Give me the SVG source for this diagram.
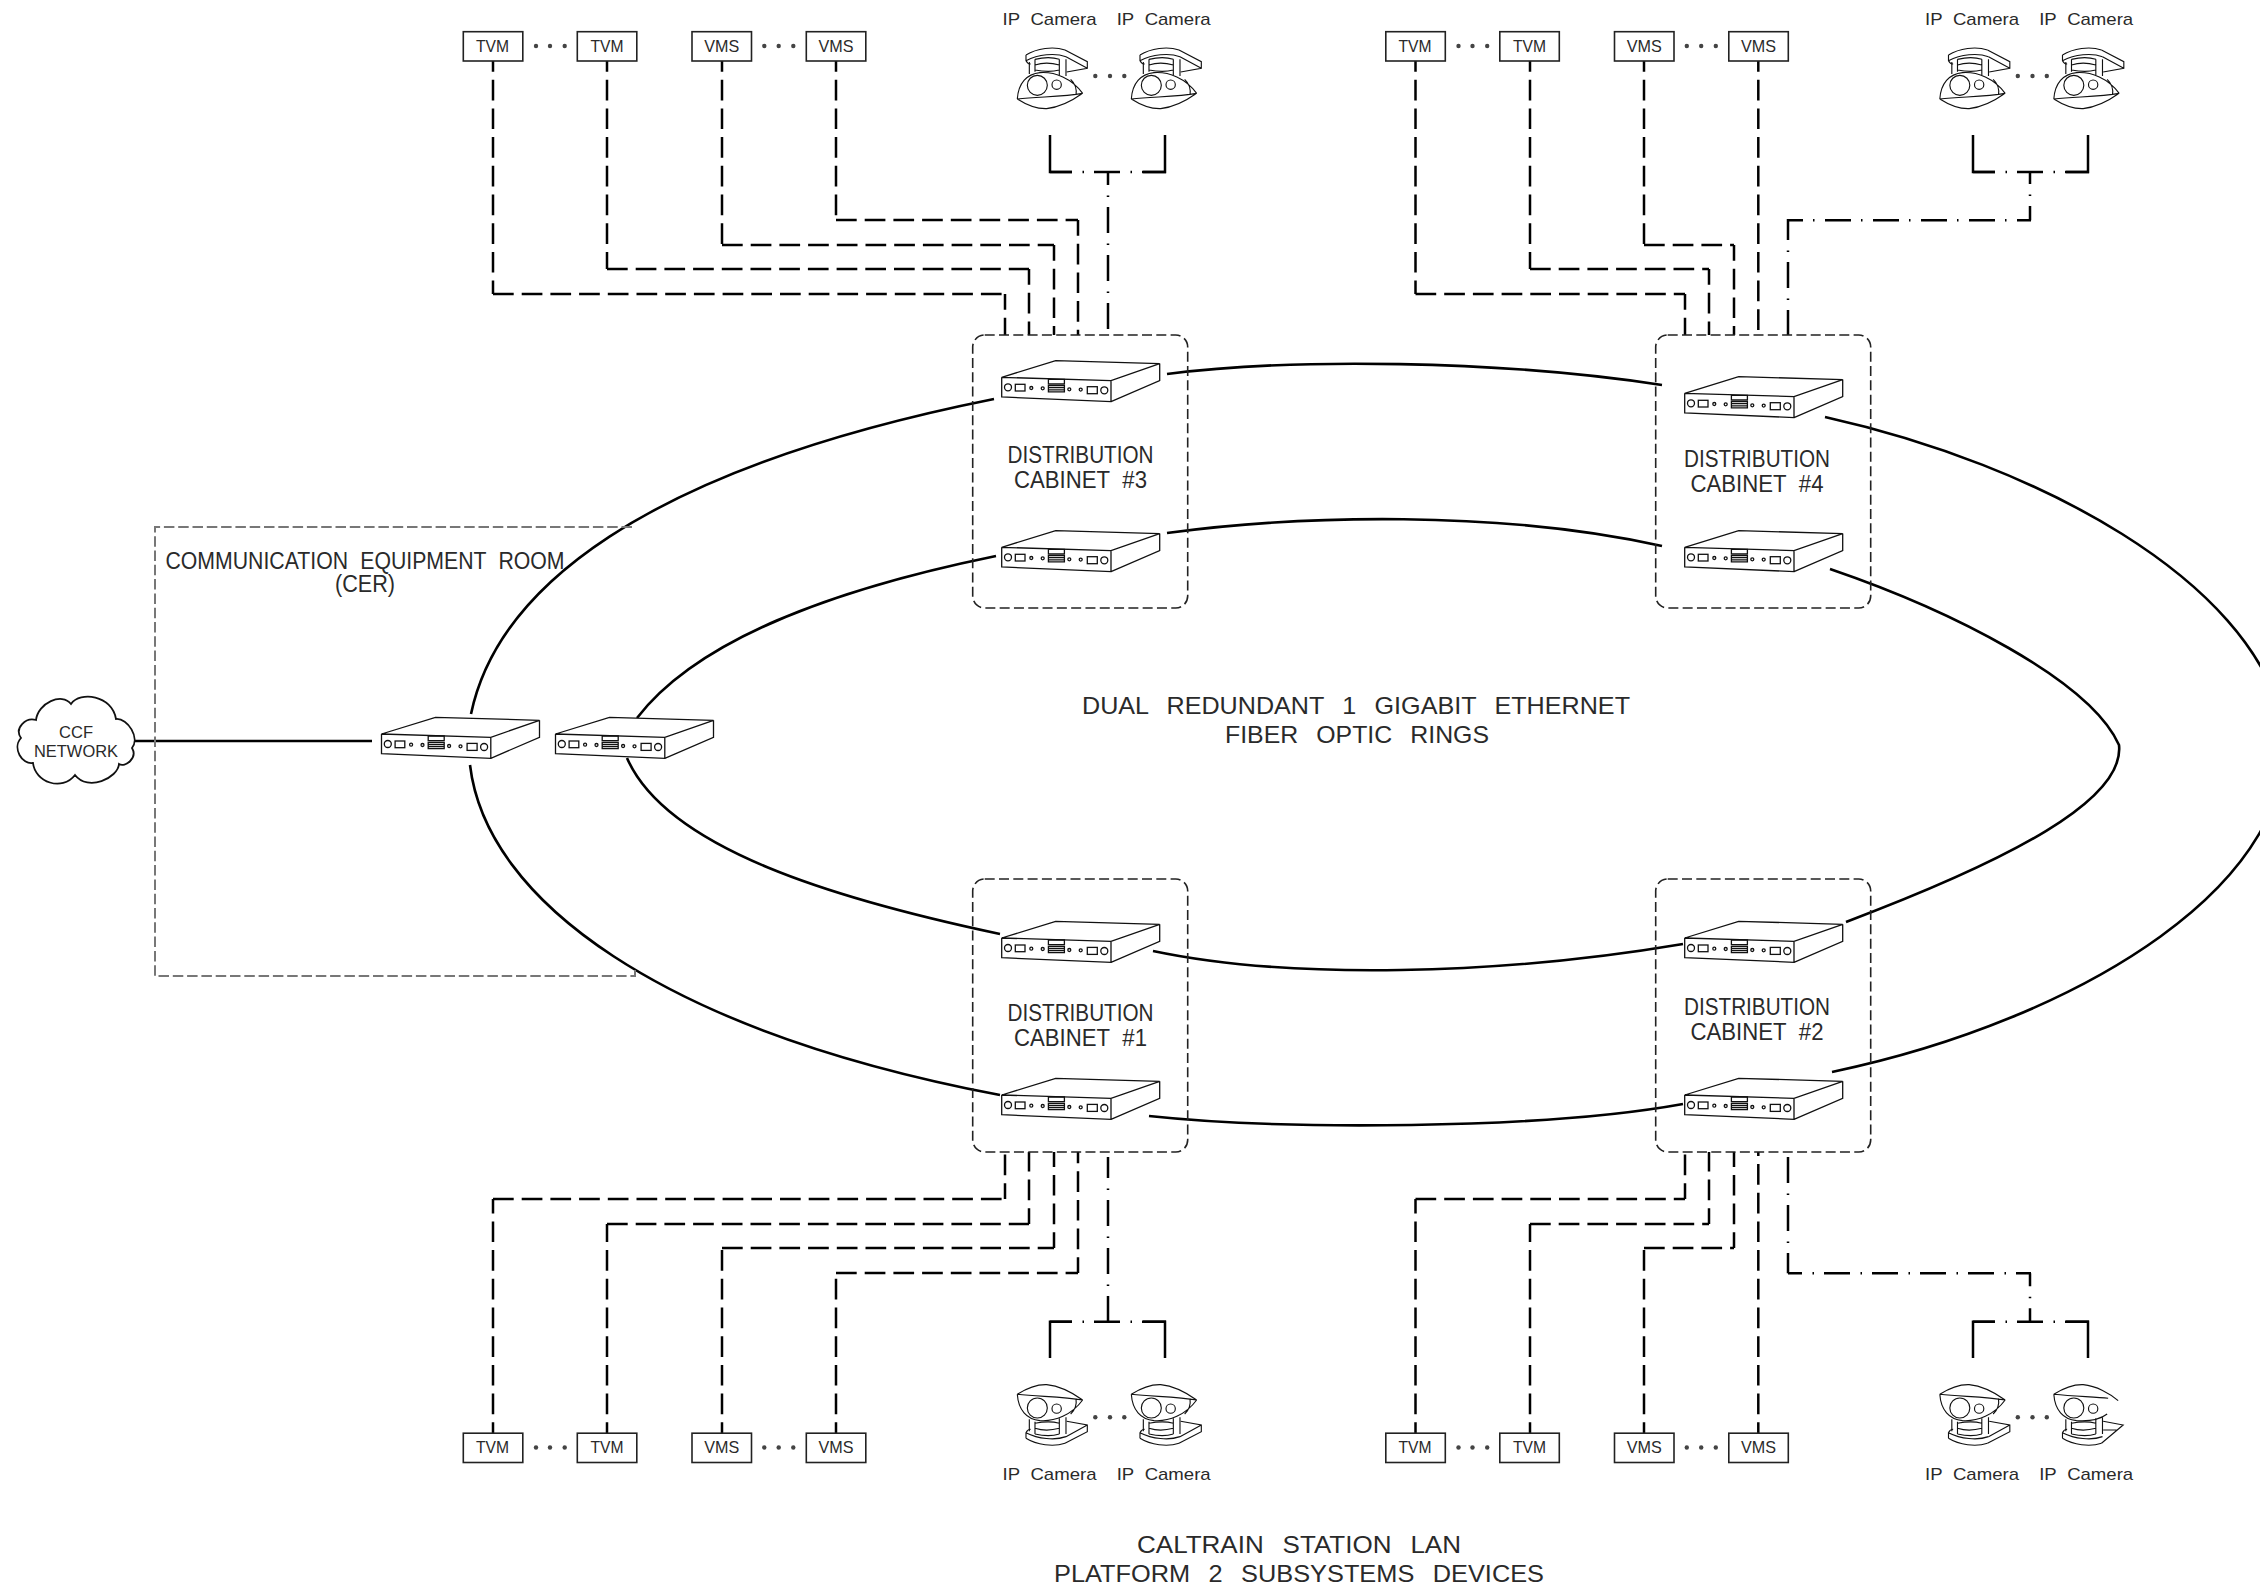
<svg xmlns="http://www.w3.org/2000/svg" width="2260" height="1587" viewBox="0 0 2260 1587">
<style>
text{font-family:"Liberation Sans",Arial,sans-serif;fill:#2a2a2a;text-anchor:middle;word-spacing:.3em}
.s{font-size:17px}.m{font-size:23px}.l{font-size:24px;word-spacing:.45em}
.box{fill:#fff;stroke:#222;stroke-width:1.6}
.cab{fill:none;stroke:#222;stroke-width:1.6;stroke-dasharray:10 4.3}
.cer{fill:none;stroke:#777;stroke-width:2;stroke-dasharray:10.5 3.8}
.dot{fill:#444}
.f{fill:none;stroke:#000;stroke-width:2.6;stroke-linecap:butt}
.c{fill:none;stroke:#000;stroke-width:2.5}
.d{stroke-dasharray:20.7 8}
.a{stroke-dashoffset:10}.b{stroke-dashoffset:5}
.dd{stroke-dasharray:26 10.5 1.5 10}
.e{stroke-dashoffset:13}.g{stroke-dashoffset:4}.h{stroke-dashoffset:12}.i{stroke-dashoffset:5}
.u{fill:none;stroke:#111;stroke-width:1.3}
.cm{fill:none;stroke:#111;stroke-width:3.4}
</style>
<defs>
<g id="sw" class="u">
<path d="M0 0L54 -16.7L158 -13.7L109.3 3.3ZM0 0V19.7L109.3 24.3V3.3M158 -13.7V3.3L109.3 24.3" fill="#fff"/>
<circle cx="6.3" cy="10" r="3.5"/><rect x="13.6" y="7" width="9.7" height="6.7"/><circle cx="29.6" cy="10.7" r="1.5"/><circle cx="41" cy="11" r="1.5"/>
<path d="M46.7 2H62.7V6.7H46.7ZM46.7 8.3H62.7V14.6H46.7ZM46.7 10.4H62.7M46.7 12.5H62.7"/>
<circle cx="67.6" cy="12" r="1.5"/><circle cx="79" cy="12.3" r="1.5"/><rect x="85.6" y="9.4" width="10" height="7"/><circle cx="102.6" cy="13" r="3.5"/>
</g>
<g id="mount">
<path d="M258 165C290 145 340 138 375 150M258 165V182C262 190 270 192 272 192M258 182C295 163 345 158 378 170"/>
<path d="M268 186V222M285 178V215M358 178V225M378 178V228M285 178C310 172 340 172 358 178M285 195C310 187 340 190 358 195M285 210C310 215 340 215 358 210"/>
<circle cx="292" cy="256" r="30"/><circle cx="350" cy="254" r="14"/>
</g>
<g id="cam" class="cm">
<use href="#mount"/>
<path d="M375 150L442 185V205L380 216M378 170L442 205"/>
<path d="M232 297C260 315 290 327 320 326C360 322 400 300 428 280M232 297C300 290 370 290 428 280M232 297C235 250 260 222 300 218C345 215 395 235 428 280M392 238C405 250 411 265 408 285"/>
</g>
<g id="camx" class="cm">
<use href="#mount"/>
<path d="M375 150L440 205L380 216M380 190L420 190"/>
<path d="M232 297C260 315 290 327 320 326C360 322 400 300 425 278M232 297C300 290 360 290 395 285M232 297C235 250 260 222 300 218C345 215 375 225 392 238"/>
</g>
</defs>
<rect width="2260" height="1587" fill="#fff"/>

<g id="connectors">
<path class="f" d="M134 741H372"/>
<path class="f" d="M471 714C497 590 640 470 994 399"/>
<path class="f" d="M1167 374C1290 358 1500 360 1662 385"/>
<path class="f" d="M1825 417C2040 465 2250 580 2282 720C2310 880 2080 1020 1832 1072"/>
<path class="f" d="M1149 1116C1280 1130 1540 1130 1683 1104"/>
<path class="f" d="M470 765C486 900 660 1030 1000 1095"/>
<path class="f" d="M637 718C697 640 830 590 996 556"/>
<path class="f" d="M1167 533C1300 515 1500 510 1662 546"/>
<path class="f" d="M1830 569C1950 610 2090 680 2119 745C2125 800 2010 860 1846 922"/>
<path class="f" d="M1153 951C1290 980 1500 975 1683 944"/>
<path class="f" d="M627 758C667 850 840 900 1000 934"/>

<path class="c d a" d="M493 61V294"/><path class="c d" d="M493 294H1005"/><path class="c d b" d="M1005 294V335"/>
<path class="c d a" d="M607 61V269"/><path class="c d" d="M607 269H1029"/><path class="c d b" d="M1029 269V335"/>
<path class="c d a" d="M722 61V245"/><path class="c d" d="M722 245H1054"/><path class="c d b" d="M1054 245V335"/>
<path class="c d a" d="M836 61V220"/><path class="c d" d="M836 220H1078"/><path class="c d b" d="M1078 220V335"/>
<path class="c dd e" d="M1108 172V335"/>
<path class="c" d="M1050 135V172H1072M1165 135V172H1143"/>
<path class="c dd g" d="M1050 172H1166"/>

<path class="c d a" d="M1415.5 61V294"/><path class="c d" d="M1415.5 294H1685"/><path class="c d b" d="M1685 294V335"/>
<path class="c d a" d="M1530 61V269"/><path class="c d" d="M1530 269H1709"/><path class="c d b" d="M1709 269V335"/>
<path class="c d a" d="M1644 61V245"/><path class="c d" d="M1644 245H1734"/><path class="c d b" d="M1734 245V335"/>
<path class="c d a" d="M1758.3 61V335"/>
<path class="c" d="M1973 135V172H1995M2088 135V172H2066"/>
<path class="c dd g" d="M1973 172H2089"/>
<path class="c dd e" d="M2030 171V220.3"/>
<path class="c dd h" d="M2031 220.3H1788"/>
<path class="c dd i" d="M1788 219V335"/>

<path class="c d a" d="M493 1433V1199"/><path class="c d" d="M493 1199H1005"/><path class="c d b" d="M1005 1199V1152"/>
<path class="c d a" d="M607 1433V1224"/><path class="c d" d="M607 1224H1029"/><path class="c d b" d="M1029 1224V1152"/>
<path class="c d a" d="M722 1433V1248"/><path class="c d" d="M722 1248H1054"/><path class="c d b" d="M1054 1248V1152"/>
<path class="c d a" d="M836 1433V1273"/><path class="c d" d="M836 1273H1078"/><path class="c d b" d="M1078 1273V1152"/>
<path class="c dd i" d="M1108 1157V1321.7"/>
<path class="c" d="M1050 1358V1321.7H1072M1165 1358V1321.7H1143"/>
<path class="c dd g" d="M1050 1321.7H1166"/>

<path class="c d a" d="M1415.5 1433V1199"/><path class="c d" d="M1415.5 1199H1685"/><path class="c d b" d="M1685 1199V1152"/>
<path class="c d a" d="M1530 1433V1224"/><path class="c d" d="M1530 1224H1709"/><path class="c d b" d="M1709 1224V1152"/>
<path class="c d a" d="M1644 1433V1248"/><path class="c d" d="M1644 1248H1734"/><path class="c d b" d="M1734 1248V1152"/>
<path class="c d a" d="M1758.3 1433V1152"/>
<path class="c dd" d="M1788 1157V1273.3"/>
<path class="c dd h" d="M1788 1273.3H2031"/>
<path class="c dd e" d="M2030 1273.3V1321.7"/>
<path class="c" d="M1973 1358V1321.7H1995M2088 1358V1321.7H2066"/>
<path class="c dd g" d="M1973 1321.7H2089"/>
</g>

<g id="ccf-network">
<path d="M36 720C38 703 62 692 71 704C80 691 112 695 116 719C128 718 140 738 132 748C138 758 125 768 119 764C118 778 88 792 75 775C62 792 35 782 33 763C22 765 12 748 21 738C14 728 26 717 36 720Z" fill="#fff" stroke="#111" stroke-width="1.8"/>
<text class="s" x="76" y="738" textLength="34" lengthAdjust="spacingAndGlyphs">CCF</text>
<text class="s" x="76" y="757" textLength="84" lengthAdjust="spacingAndGlyphs">NETWORK</text>
</g>

<g id="cer">
<path class="cer" d="M632 527H155V976H635V967"/>
<text class="m" x="365" y="569" textLength="399" lengthAdjust="spacingAndGlyphs">COMMUNICATION EQUIPMENT ROOM</text>
<text class="m" x="365" y="592" textLength="60" lengthAdjust="spacingAndGlyphs">(CER)</text>
<use href="#sw" x="381.5" y="734"/>
<use href="#sw" x="555.5" y="734"/>
</g>

<g id="cabinet-3">
<rect class="cab" x="972.7" y="335" width="215" height="273" rx="12"/>
<use href="#sw" x="1001.7" y="377.3"/><use href="#sw" x="1001.7" y="547.3"/>
<text class="m" x="1080.5" y="463" textLength="146" lengthAdjust="spacingAndGlyphs">DISTRIBUTION</text>
<text class="m" x="1080.5" y="488" textLength="133" lengthAdjust="spacingAndGlyphs">CABINET #3</text>
</g>
<g id="cabinet-4">
<rect class="cab" x="1655.7" y="335" width="215" height="273" rx="12"/>
<use href="#sw" x="1684.7" y="393.3"/><use href="#sw" x="1684.7" y="547.3"/>
<text class="m" x="1757" y="467" textLength="146" lengthAdjust="spacingAndGlyphs">DISTRIBUTION</text>
<text class="m" x="1757" y="492" textLength="133" lengthAdjust="spacingAndGlyphs">CABINET #4</text>
</g>
<g id="cabinet-1">
<rect class="cab" x="972.7" y="879" width="215" height="273" rx="12"/>
<use href="#sw" x="1001.7" y="938"/><use href="#sw" x="1001.7" y="1095"/>
<text class="m" x="1080.5" y="1021" textLength="146" lengthAdjust="spacingAndGlyphs">DISTRIBUTION</text>
<text class="m" x="1080.5" y="1046" textLength="133" lengthAdjust="spacingAndGlyphs">CABINET #1</text>
</g>
<g id="cabinet-2">
<rect class="cab" x="1655.7" y="879" width="215" height="273" rx="12"/>
<use href="#sw" x="1684.7" y="938"/><use href="#sw" x="1684.7" y="1095"/>
<text class="m" x="1757" y="1015" textLength="146" lengthAdjust="spacingAndGlyphs">DISTRIBUTION</text>
<text class="m" x="1757" y="1040" textLength="133" lengthAdjust="spacingAndGlyphs">CABINET #2</text>
</g>

<g id="devices-top-left">
<rect class="box" x="463.3" y="31.7" width="59.5" height="29.3"/><text class="s" x="492.5" y="51.7" textLength="33" lengthAdjust="spacingAndGlyphs">TVM</text>
<rect class="box" x="577.3" y="31.7" width="59.5" height="29.3"/><text class="s" x="607" y="51.7" textLength="33" lengthAdjust="spacingAndGlyphs">TVM</text>
<circle class="dot" cx="536" cy="46" r="2.2"/><circle class="dot" cx="550" cy="46" r="2.2"/><circle class="dot" cx="564.7" cy="46" r="2.2"/>
<rect class="box" x="692" y="31.7" width="59.5" height="29.3"/><text class="s" x="721.8" y="51.7" textLength="35" lengthAdjust="spacingAndGlyphs">VMS</text>
<rect class="box" x="806.3" y="31.7" width="59.5" height="29.3"/><text class="s" x="836" y="51.7" textLength="35" lengthAdjust="spacingAndGlyphs">VMS</text>
<circle class="dot" cx="764.3" cy="46" r="2.2"/><circle class="dot" cx="778.7" cy="46" r="2.2"/><circle class="dot" cx="793.3" cy="46" r="2.2"/>
</g>
<g id="devices-top-right" transform="translate(922.5 0)">
<rect class="box" x="463.3" y="31.7" width="59.5" height="29.3"/><text class="s" x="492.5" y="51.7" textLength="33" lengthAdjust="spacingAndGlyphs">TVM</text>
<rect class="box" x="577.3" y="31.7" width="59.5" height="29.3"/><text class="s" x="607" y="51.7" textLength="33" lengthAdjust="spacingAndGlyphs">TVM</text>
<circle class="dot" cx="536" cy="46" r="2.2"/><circle class="dot" cx="550" cy="46" r="2.2"/><circle class="dot" cx="564.7" cy="46" r="2.2"/>
<rect class="box" x="692" y="31.7" width="59.5" height="29.3"/><text class="s" x="721.8" y="51.7" textLength="35" lengthAdjust="spacingAndGlyphs">VMS</text>
<rect class="box" x="806.3" y="31.7" width="59.5" height="29.3"/><text class="s" x="836" y="51.7" textLength="35" lengthAdjust="spacingAndGlyphs">VMS</text>
<circle class="dot" cx="764.3" cy="46" r="2.2"/><circle class="dot" cx="778.7" cy="46" r="2.2"/><circle class="dot" cx="793.3" cy="46" r="2.2"/>
</g>
<g id="devices-bottom-left" transform="translate(0 1401.5)">
<rect class="box" x="463.3" y="31.7" width="59.5" height="29.3"/><text class="s" x="492.5" y="51.7" textLength="33" lengthAdjust="spacingAndGlyphs">TVM</text>
<rect class="box" x="577.3" y="31.7" width="59.5" height="29.3"/><text class="s" x="607" y="51.7" textLength="33" lengthAdjust="spacingAndGlyphs">TVM</text>
<circle class="dot" cx="536" cy="46" r="2.2"/><circle class="dot" cx="550" cy="46" r="2.2"/><circle class="dot" cx="564.7" cy="46" r="2.2"/>
<rect class="box" x="692" y="31.7" width="59.5" height="29.3"/><text class="s" x="721.8" y="51.7" textLength="35" lengthAdjust="spacingAndGlyphs">VMS</text>
<rect class="box" x="806.3" y="31.7" width="59.5" height="29.3"/><text class="s" x="836" y="51.7" textLength="35" lengthAdjust="spacingAndGlyphs">VMS</text>
<circle class="dot" cx="764.3" cy="46" r="2.2"/><circle class="dot" cx="778.7" cy="46" r="2.2"/><circle class="dot" cx="793.3" cy="46" r="2.2"/>
</g>
<g id="devices-bottom-right" transform="translate(922.5 1401.5)">
<rect class="box" x="463.3" y="31.7" width="59.5" height="29.3"/><text class="s" x="492.5" y="51.7" textLength="33" lengthAdjust="spacingAndGlyphs">TVM</text>
<rect class="box" x="577.3" y="31.7" width="59.5" height="29.3"/><text class="s" x="607" y="51.7" textLength="33" lengthAdjust="spacingAndGlyphs">TVM</text>
<circle class="dot" cx="536" cy="46" r="2.2"/><circle class="dot" cx="550" cy="46" r="2.2"/><circle class="dot" cx="564.7" cy="46" r="2.2"/>
<rect class="box" x="692" y="31.7" width="59.5" height="29.3"/><text class="s" x="721.8" y="51.7" textLength="35" lengthAdjust="spacingAndGlyphs">VMS</text>
<rect class="box" x="806.3" y="31.7" width="59.5" height="29.3"/><text class="s" x="836" y="51.7" textLength="35" lengthAdjust="spacingAndGlyphs">VMS</text>
<circle class="dot" cx="764.3" cy="46" r="2.2"/><circle class="dot" cx="778.7" cy="46" r="2.2"/><circle class="dot" cx="793.3" cy="46" r="2.2"/>
</g>

<g id="cameras-top-left">
<use href="#cam" transform="translate(940 0) scale(.3333)"/><use href="#cam" transform="translate(1054 0) scale(.3333)"/>
<circle class="dot" cx="1095.3" cy="76" r="2.2"/><circle class="dot" cx="1110" cy="76" r="2.2"/><circle class="dot" cx="1124.3" cy="76" r="2.2"/>
<text class="s" x="1049.5" y="25" textLength="94" lengthAdjust="spacingAndGlyphs">IP Camera</text><text class="s" x="1163.7" y="25" textLength="94" lengthAdjust="spacingAndGlyphs">IP Camera</text>
</g>
<g id="cameras-top-right">
<use href="#cam" transform="translate(1862.5 0) scale(.3333)"/><use href="#cam" transform="translate(1976.5 0) scale(.3333)"/>
<circle class="dot" cx="2017.8" cy="76" r="2.2"/><circle class="dot" cx="2032.5" cy="76" r="2.2"/><circle class="dot" cx="2046.8" cy="76" r="2.2"/>
<text class="s" x="1972" y="25" textLength="94" lengthAdjust="spacingAndGlyphs">IP Camera</text><text class="s" x="2086.2" y="25" textLength="94" lengthAdjust="spacingAndGlyphs">IP Camera</text>
</g>
<g id="cameras-bottom-left">
<use href="#cam" transform="translate(940 1493.3) scale(.3333 -.3333)"/><use href="#cam" transform="translate(1054 1493.3) scale(.3333 -.3333)"/>
<circle class="dot" cx="1095.3" cy="1417.3" r="2.2"/><circle class="dot" cx="1110" cy="1417.3" r="2.2"/><circle class="dot" cx="1124.3" cy="1417.3" r="2.2"/>
<text class="s" x="1049.5" y="1480" textLength="94" lengthAdjust="spacingAndGlyphs">IP Camera</text><text class="s" x="1163.7" y="1480" textLength="94" lengthAdjust="spacingAndGlyphs">IP Camera</text>
</g>
<g id="cameras-bottom-right">
<use href="#cam" transform="translate(1862.5 1493.3) scale(.3333 -.3333)"/><use href="#camx" transform="translate(1976.5 1493.3) scale(.3333 -.3333)"/>
<circle class="dot" cx="2017.8" cy="1417.3" r="2.2"/><circle class="dot" cx="2032.5" cy="1417.3" r="2.2"/><circle class="dot" cx="2046.8" cy="1417.3" r="2.2"/>
<text class="s" x="1972" y="1480" textLength="94" lengthAdjust="spacingAndGlyphs">IP Camera</text><text class="s" x="2086.2" y="1480" textLength="94" lengthAdjust="spacingAndGlyphs">IP Camera</text>
</g>

<g id="titles">
<text class="l" x="1356" y="714" textLength="548" lengthAdjust="spacingAndGlyphs">DUAL REDUNDANT 1 GIGABIT ETHERNET</text>
<text class="l" x="1357" y="743" textLength="264" lengthAdjust="spacingAndGlyphs">FIBER OPTIC RINGS</text>
<text class="l" x="1299" y="1553" textLength="324" lengthAdjust="spacingAndGlyphs">CALTRAIN STATION LAN</text>
<text class="l" x="1299" y="1582" textLength="490" lengthAdjust="spacingAndGlyphs">PLATFORM 2 SUBSYSTEMS DEVICES</text>
</g>
</svg>
